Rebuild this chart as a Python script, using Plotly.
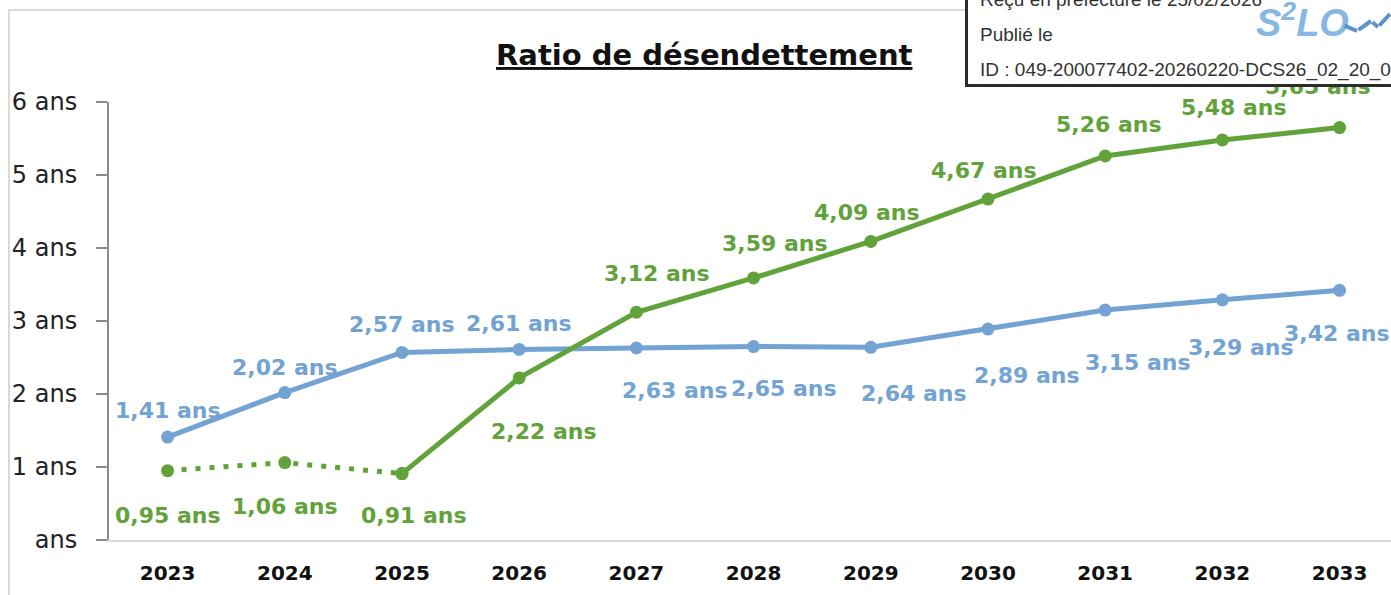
import plotly.graph_objects as go

# ---- data ----
years = [2023, 2024, 2025, 2026, 2027, 2028, 2029, 2030, 2031, 2032, 2033]
ratio_blue = [1.41, 2.02, 2.57, 2.61, 2.63, 2.65, 2.64, 2.89, 3.15, 3.29, 3.42]
ratio_green = [0.95, 1.06, 0.91, 2.22, 3.12, 3.59, 4.09, 4.67, 5.26, 5.48, 5.65]
y_tick_vals = [0, 1, 2, 3, 4, 5, 6]
y_tick_text = ["ans", "1 ans", "2 ans", "3 ans", "4 ans", "5 ans", "6 ans"]
title_text = "Ratio de désendettement"
stamp_lines = ["Reçu en préfecture le 25/02/2026", "Publié le",
               "ID : 049-200077402-20260220-DCS26_02_20_03"]

# ---- styles / label offsets (pixels) ----
BLUE = "#72A3D3"
GREEN = "#62A23B"
blue_offsets = [(0, 27), (0, 25), (0, 28), (0, 26), (39, -42), (30, -42),
                (43, -46), (39, -46), (33, -52), (19, -48), (-3, -43)]
green_offsets = [(0, -45), (0, -44), (12, -42), (25, -54), (21, 39), (21, 34),
                 (-4, 29), (-4, 29), (4, 32), (12, 32), (-22, 41)]

W, H = 1391, 595
ML, MR, MT = 109, 0, 102
MB = H - 540
PW, PH = W - ML - MR, H - MT - MB
STEP = 117.2


def px2x(px):
    """window pixel x -> paper x"""
    return (px - ML) / PW


def py2y(py):
    """window pixel y -> paper y"""
    return (H - MB - py) / PH


def fmt(v):
    return f"{v:.2f}".replace(".", ",") + " ans"


fig = go.Figure()

fig.add_trace(go.Scatter(
    x=years, y=ratio_blue, mode="lines+markers",
    line=dict(color=BLUE, width=5),
    marker=dict(color=BLUE, size=13), showlegend=False, hoverinfo="skip"))

fig.add_trace(go.Scatter(
    x=years[:3], y=ratio_green[:3], mode="lines+markers",
    line=dict(color=GREEN, width=5, dash="5px,9px"),
    marker=dict(color=GREEN, size=13), showlegend=False, hoverinfo="skip"))

fig.add_trace(go.Scatter(
    x=years[2:], y=ratio_green[2:], mode="lines+markers",
    line=dict(color=GREEN, width=5),
    marker=dict(color=GREEN, size=13), showlegend=False, hoverinfo="skip"))

annotations = []
label_font = dict(family="DejaVu Sans", size=22, weight="bold")
for yr, v, (dx, dy) in zip(years, ratio_blue, blue_offsets):
    annotations.append(dict(x=yr, y=v, xref="x", yref="y", text=fmt(v),
                            showarrow=False, xshift=dx, yshift=dy,
                            xanchor="center", yanchor="middle",
                            font=dict(color=BLUE, **label_font)))
for yr, v, (dx, dy) in zip(years, ratio_green, green_offsets):
    annotations.append(dict(x=yr, y=v, xref="x", yref="y", text=fmt(v),
                            showarrow=False, xshift=dx, yshift=dy,
                            xanchor="center", yanchor="middle",
                            font=dict(color=GREEN, **label_font)))

# title
annotations.append(dict(x=px2x(704), y=py2y(55), xref="paper", yref="paper",
                        xanchor="center", yanchor="middle",
                        text="<u>" + title_text + "</u>", showarrow=False,
                        font=dict(family="DejaVu Sans", size=29, weight="bold",
                                  color="#111111")))

# stamp box
annotations.append(dict(x=px2x(965), y=py2y(87), xref="paper", yref="paper",
                        xanchor="left", yanchor="bottom", text=" ",
                        width=470, height=120, showarrow=False,
                        bgcolor="white", bordercolor="#2b2b2b", borderwidth=3,
                        borderpad=0))
for i, line in enumerate(stamp_lines):
    annotations.append(dict(x=px2x(978), y=py2y(0 + 35 * i), xref="paper",
                            yref="paper", xanchor="left", yanchor="middle",
                            text=line, showarrow=False,
                            font=dict(family="Liberation Sans", size=19,
                                      color="#333333")))
annotations.append(dict(x=px2x(1254), y=py2y(20), xref="paper", yref="paper",
                        xanchor="left", yanchor="middle",
                        text="<i><b>S<sup>2</sup>LO</b></i>", showarrow=False,
                        font=dict(family="Liberation Sans", size=38,
                                  color="#86B8E3")))
# bird mark of the logo, drawn as arrow-less annotation segments
bird = [(1343, 25, 1357, 31), (1357, 31, 1371, 21), (1371, 21, 1378, 27),
        (1378, 27, 1396, 14)]
for x0, y0, x1, y1 in bird:
    annotations.append(dict(x=px2x(x1), y=py2y(y1), ax=x0 - x1, ay=y0 - y1,
                            xref="paper", yref="paper", axref="pixel",
                            ayref="pixel", text="", showarrow=True,
                            arrowhead=0, arrowwidth=4, arrowcolor="#5B93C9",
                            standoff=0, startstandoff=0))

shapes = [
    dict(type="rect", xref="paper", yref="paper", x0=px2x(9), x1=px2x(1420),
         y0=py2y(10), y1=py2y(605), line=dict(color="#d9d9d9", width=2),
         layer="below"),
]

fig.update_layout(
    width=W, height=H,
    margin=dict(l=ML, r=MR, t=MT, b=MB),
    paper_bgcolor="white", plot_bgcolor="white",
    annotations=annotations, shapes=shapes,
    xaxis=dict(range=[2022.5, 2022.5 + PW / STEP], tickvals=years,
               ticktext=[str(y) for y in years],
               showgrid=False, zeroline=False, showline=True,
               linecolor="#d9d9d9", linewidth=2, ticks="",
               ticklabelstandoff=14,
               tickfont=dict(family="DejaVu Sans", size=20, weight="bold",
                             color="#111111")),
    yaxis=dict(range=[0, 6], tickvals=y_tick_vals, ticktext=y_tick_text,
               showgrid=False, zeroline=False, showline=True,
               linecolor="#8c8c8c", linewidth=2, ticks="outside",
               ticklen=11, tickwidth=2, tickcolor="#8c8c8c",
               ticklabelstandoff=14,
               tickfont=dict(family="DejaVu Sans", size=24, color="#222222")),
)

fig.write_html("out.html",
               config={"displayModeBar": False},
               post_script="document.body.style.margin='0';"
                           "document.body.style.overflow='hidden';")
